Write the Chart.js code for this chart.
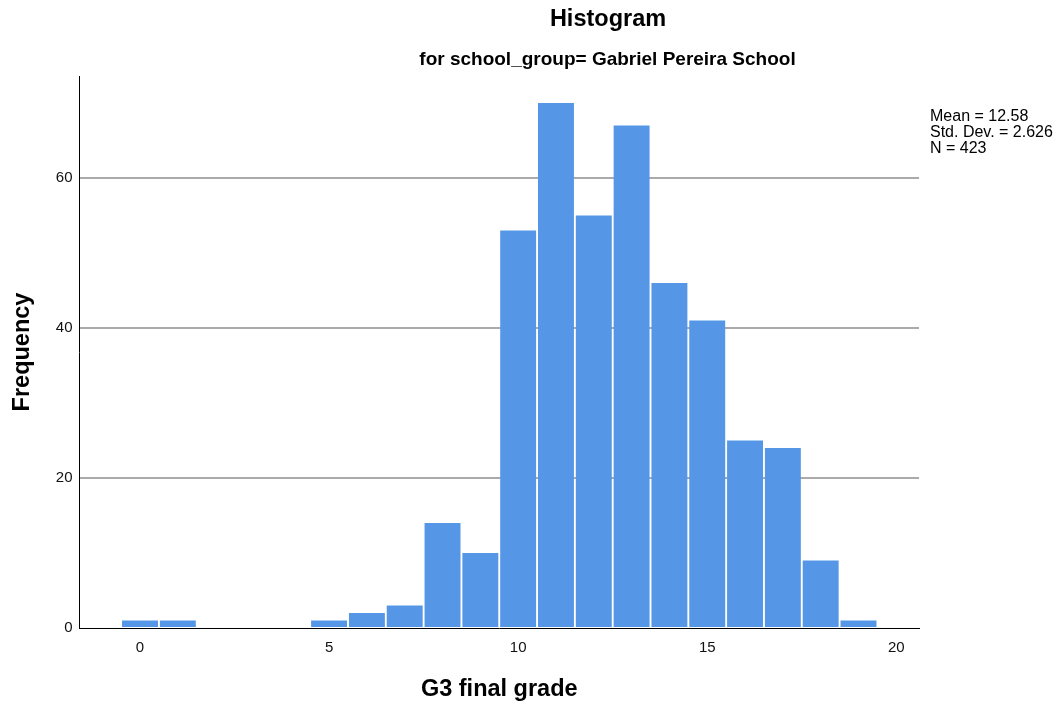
<!DOCTYPE html>
<html>
<head>
<meta charset="utf-8">
<script src="https://cdn.jsdelivr.net/npm/chart.js@4/dist/chart.umd.min.js"></script>
<style>
    body { margin: 0; background: #ffffff; }
    #wrap { width: 1057px; height: 705px; }
</style>
</head>
<body>
<div id="wrap"><canvas id="histChart" width="1057" height="705"></canvas></div>
<script>
// grade bins (centre of each 1-point bin) and their counts
const binCentres = [0, 1, 5, 6, 7, 8, 9, 10, 11, 12, 13, 14, 15, 16, 17, 18, 19];
const binCounts = [1, 1, 1, 2, 3, 14, 10, 53, 70, 55, 67, 46, 41, 25, 24, 9, 1];
const xTickValues = [0, 5, 10, 15, 20];
const yTickValues = [0, 20, 40, 60];
const statLines = ['Mean = 12.58', 'Std. Dev. = 2.626', 'N = 423'];
const chartTitle = 'Histogram';
const chartSubtitle = 'for school_group= Gabriel Pereira School';

const FONT = "'Liberation Sans', Arial, sans-serif";

const headerPlugin = {
    id: 'header',
    afterDraw(chart) {
        const { ctx } = chart;
        ctx.save();
        ctx.fillStyle = '#000000';
        ctx.textAlign = 'center';
        ctx.textBaseline = 'middle';
        ctx.font = `bold 23.5px ${FONT}`;
        ctx.fillText(chartTitle, 608, 20);
        ctx.font = `bold 19px ${FONT}`;
        ctx.fillText(chartSubtitle, 607.5, 60);

        ctx.textAlign = 'left';
        ctx.font = `16px ${FONT}`;
        statLines.forEach((line, i) => {
            ctx.fillText(line, 930, 117 + i * 16);
        });
        ctx.restore();
    }
};

new Chart(document.getElementById('histChart'), {
    type: 'bar',
    data: {
        datasets: [{
            data: binCentres.map((x, i) => ({ x, y: binCounts[i] })),
            backgroundColor: '#5596e6',
            borderWidth: 0,
            barPercentage: 0.95,
            categoryPercentage: 1
        }]
    },
    plugins: [headerPlugin],
    options: {
        responsive: false,
        animation: false,
        layout: {
            padding: { top: 76, right: 138, bottom: 0, left: 0 }
        },
        plugins: {
            legend: { display: false },
            tooltip: { enabled: false }
        },
        scales: {
            x: {
                type: 'linear',
                offset: false,
                min: -1.6,
                max: 20.6,
                afterBuildTicks(scale) {
                    scale.ticks = xTickValues.map((v) => ({ value: v }));
                },
                afterFit(scale) {
                    scale.height = 77;
                },
                grid: { display: false, drawTicks: false },
                border: { display: true, color: '#000000', width: 1 },
                ticks: {
                    padding: 11,
                    color: '#111111',
                    font: { family: FONT, size: 15 },
                    maxRotation: 0
                },
                title: {
                    display: true,
                    text: 'G3 final grade',
                    color: '#000000',
                    font: { family: FONT, size: 23.5, weight: 'bold' },
                    padding: { top: 0, bottom: 1 }
                }
            },
            y: {
                min: 0,
                max: 73.6,
                afterBuildTicks(scale) {
                    scale.ticks = yTickValues.map((v) => ({ value: v }));
                },
                afterFit(scale) {
                    scale.width = 79.5;
                },
                grid: {
                    drawTicks: false,
                    color: (ctx) => (ctx.tick && ctx.tick.value === 0 ? 'rgba(0,0,0,0)' : '#aaaaaa'),
                    lineWidth: 2
                },
                border: { display: true, color: '#000000', width: 1 },
                ticks: {
                    padding: 7,
                    color: '#111111',
                    font: { family: FONT, size: 15 }
                },
                title: {
                    display: true,
                    text: 'Frequency',
                    color: '#000000',
                    font: { family: FONT, size: 23.5, weight: 'bold' },
                    padding: { top: 8, bottom: 0 }
                }
            }
        }
    }
});
</script>
</body>
</html>
